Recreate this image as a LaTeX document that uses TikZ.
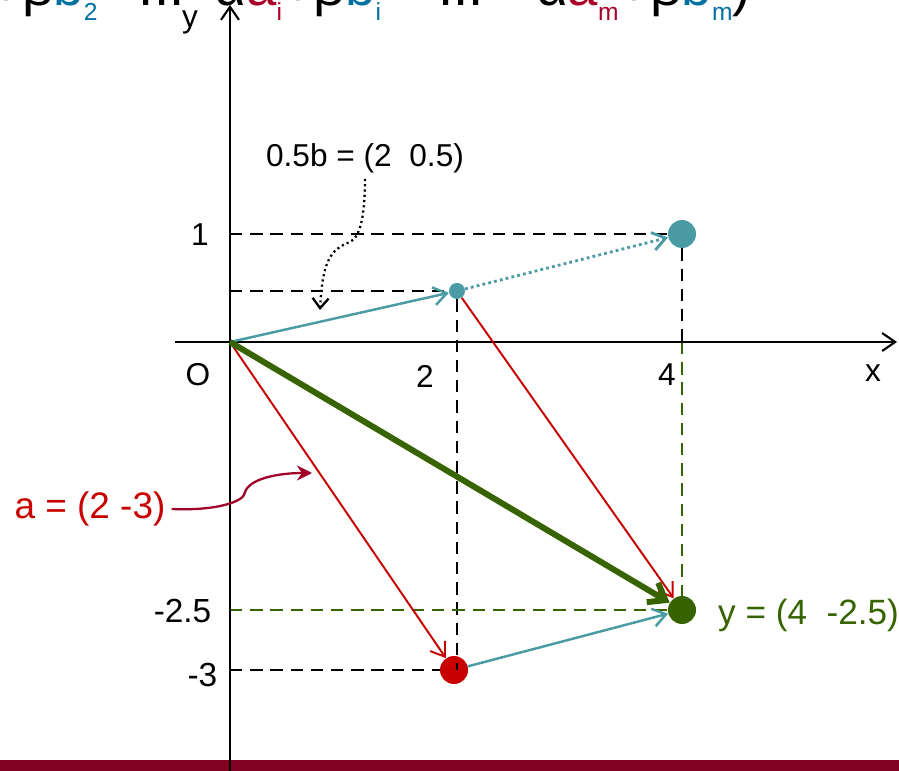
\documentclass[tikz,border=0pt]{standalone}
\usepackage{fontspec}
\setmainfont{Liberation Sans}
\usetikzlibrary{arrows.meta}

\definecolor{tealv}{RGB}{74,155,164}
\definecolor{redv}{RGB}{200,0,0}
\definecolor{greenv}{RGB}{55,100,0}
\definecolor{darkredv}{RGB}{160,0,40}
\definecolor{acol}{RGB}{170,0,40}
\definecolor{bcol}{RGB}{0,112,160}
\definecolor{barcol}{RGB}{130,0,32}

\newcommand{\sbs}[1]{\raisebox{-0.3cm}{\fontsize{14}{14}\selectfont #1}}

\begin{document}
\begin{tikzpicture}[>={Straight Barb[length=2.6mm,width=3.6mm]},
  every node/.style={font=\fontsize{18}{21}\selectfont},
  dot/.style={circle, fill=#1, inner sep=0pt, minimum size=0.56cm},
  guide/.style={dash pattern=on 7pt off 4.5pt, line width=1.1pt}]

  \useasboundingbox (-4.6,-8.58) rectangle (13.38,6.84);
  \clip (-4.6,-8.58) rectangle (13.38,6.84);

  % bandeau du bas
  \fill[barcol] (-4.6,-8.58) rectangle (13.38,-8.36);

  % combinaison (coupee en haut)
  \node[anchor=base west, inner sep=0pt, font=\fontsize{31}{34}\selectfont] (comb) at (-4.8,6.72)
    {+β\textcolor{bcol}{b\sbs{2}}\hspace{0.83cm}...\hspace{0.61cm}α\textcolor{acol}{a\sbs{i}}+β\textcolor{bcol}{b\sbs{i}}\hspace{1.15cm}...\hspace{1.05cm}α\textcolor{acol}{a\sbs{m}}+β\textcolor{bcol}{b\sbs{m}})};

  % points
  \coordinate (O) at (0,0);
  \node[dot=tealv, minimum size=0.32cm] (hb) at (4.54,1.02) {};
  \node[dot=tealv] (b) at (9.04,2.16) {};
  \node[dot=redv] (a) at (4.48,-6.56) {};
  \node[dot=greenv] (y) at (9.04,-5.36) {};

  % reperes
  \draw[guide] (O |- b) -- (b);
  \draw[guide] (O |- hb) -- (hb);
  \draw[guide] (hb) -- (hb |- a);
  \draw[guide] (O |- a) -- (a);
  \draw[guide] (b) -- (b |- O);
  \draw[guide, greenv] (b |- O) -- (y);
  \draw[guide, greenv] (O |- y) -- (y);

  % axes
  \draw[line width=1.2pt, ->] (-1.1,0) -- (13.34,0);
  \draw[line width=1.2pt, ->] (0,-8.58) -- (0,6.74);

  \node (xl) at (12.86,-0.62) {x};
  \node (yl) at (-0.8,6.4) {y};
  \node (ol) at (-0.64,-0.66) {O};
  \node (t2) at (3.9,-0.68) {2};
  \node (t4) at (8.74,-0.66) {4};
  \node (t1) at (-0.6,2.14) {1};
  \node[anchor=east, font=\fontsize{19}{22}\selectfont] (tm25) at (-0.25,-5.38) {-2.5};
  \node[anchor=east, font=\fontsize{19}{22}\selectfont] (tm3) at (-0.13,-6.66) {-3};

  % vecteurs
  \draw[tealv, line width=1.4pt, ->] (O) -- (hb);
  \draw[tealv, line width=1.6pt, dash pattern=on 1.6pt off 1.8pt, ->] (hb) -- (b);
  \draw[redv, line width=1.1pt, ->] (O) -- (a);
  \draw[redv, line width=1.1pt, ->] (hb) -- (y);
  \draw[tealv, line width=1.4pt, ->] (a) -- (y);
  \draw[greenv, line width=3.4pt, -{Straight Barb[length=3mm,width=4.5mm]}] (O) -- (y);

  % etiquettes
  \node (hbl) at (2.7,3.68) {0.5b = (2\ \ 0.5)};
  \node[redv, font=\fontsize{21}{24}\selectfont] (al) at (-2.8,-3.34) {a = (2 -3)};
  \node[greenv, anchor=west, font=\fontsize{20}{24}\selectfont] (yv) at (9.64,-5.46) {y = (4\ \ -2.5)};

  \coordinate (hbtip) at (1.8,0.64);
  \draw[line width=1.3pt, dash pattern=on 1.2pt off 1.8pt, -{Straight Barb[length=2mm,width=3.2mm]}]
    (hbl.south) .. controls (2.7,2.5) and (2.6,2.1) .. (2.4,2.0)
    .. controls (2.0,1.85) and (1.85,1.6) .. (hbtip);

  \coordinate (atip) at (1.64,-2.62);
  \draw[darkredv, line width=1.3pt, -{Stealth[length=3mm,width=3mm]}]
    (al.east) .. controls (-0.3,-3.38) and (0.3,-3.2) .. (0.3,-3.0)
    .. controls (0.4,-2.72) and (1.0,-2.62) .. (atip);

\end{tikzpicture}
\end{document}
